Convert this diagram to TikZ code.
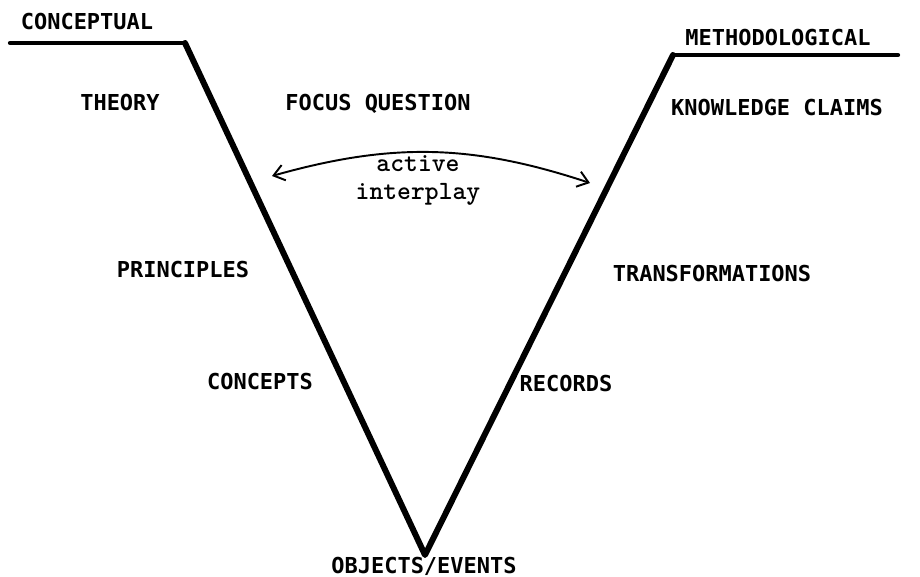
\documentclass[tikz,border=0pt]{standalone}
\usepackage{fontspec}
\newfontfamily\vmono{DejaVu Sans Mono}
\usetikzlibrary{arrows.meta}
\begin{document}
\begin{tikzpicture}[x=0.02cm,y=-0.02cm,
		lbl/.style={font=\vmono\bfseries\fontsize{12.5}{15}\selectfont},
		vline/.style={line width=3.4pt,line join=round,line cap=round}]
				\useasboundingbox (0,0) rectangle (920,577);

				\coordinate (cl) at (10,43);
				\coordinate (ct) at (185,43);
				\coordinate (tip) at (425,555);
				\coordinate (mt) at (673,55);
				\coordinate (mr) at (898,55);
				\draw[line width=2.4pt,line cap=round] (cl) -- (ct);
				\draw[line width=2.4pt,line cap=round] (mt) -- (mr);
				\draw[vline] (ct) -- (tip) -- (mt);

				\node[lbl] (conc) at (87,22) {CONCEPTUAL};
				\node[lbl] (meth) at (778,38) {METHODOLOGICAL};
				\node[lbl] (theory) at (120,103) {THEORY};
				\node[lbl] (focus) at (378,104) {FOCUS QUESTION};
				\node[lbl] (claims) at (777,108) {KNOWLEDGE CLAIMS};
				\node[lbl] (princ) at (183,270) {PRINCIPLES};
				\node[lbl] (trans) at (712,274) {TRANSFORMATIONS};
				\node[lbl] (concepts) at (260,382) {CONCEPTS};
				\node[lbl] (records) at (566,384) {RECORDS};
				\node[lbl,anchor=base,inner sep=0pt] (objects) at (424,573) {OBJECTS/EVENTS};

				\coordinate (al) at (272,176);
				\coordinate (ar) at (590,183);
				\draw[{Straight Barb[length=6pt,width=9pt]}-{Straight Barb[length=6pt,width=9pt]},line width=1.1pt] (al) to[bend left=17] (ar);
				\node[font=\ttfamily\bfseries\fontsize{15}{16}\selectfont,align=center,inner sep=0pt] (play) at (418,180) {active\\interplay};
			\end{tikzpicture}
\end{document}
